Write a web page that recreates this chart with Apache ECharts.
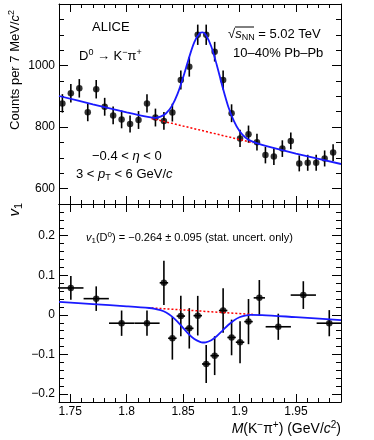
<!DOCTYPE html>
<html>
<head>
<meta charset="utf-8">
<title>D0 v1 vs invariant mass</title>
<script src="https://cdn.jsdelivr.net/npm/echarts@6.0.0/dist/echarts.min.js"></script>
<style>
  html, body { margin: 0; padding: 0; background: #fff; }
  #chart { width: 374px; height: 440px; }
</style>
</head>
<body>
<div id="chart"></div>
<script>
// top panel: counts per mass bin
const massBins = [1.743, 1.7505, 1.758, 1.7655, 1.773, 1.7805, 1.788, 1.7955, 1.803, 1.8105, 1.818,
  1.8255, 1.833, 1.8405, 1.848, 1.8555, 1.863, 1.8705, 1.878, 1.8855, 1.893, 1.9005, 1.908,
  1.9155, 1.923, 1.9305, 1.938, 1.9455, 1.953, 1.9605, 1.968, 1.9755, 1.983];
const counts = [877, 910, 926, 848, 923, 866, 838, 825, 810, 823, 877, 831, 820, 847, 953, 996,
  1100, 1100, 1045, 953, 845, 763, 777, 751, 709, 704, 730, 755, 682, 684, 684, 698, 717];
const countErrs = [30, 30, 30, 29, 30, 29, 29, 29, 28, 29, 30, 29, 29, 29, 31, 32,
  33, 33, 32, 31, 29, 28, 28, 27, 27, 27, 27, 27, 26, 26, 26, 26, 27];

// fit curves
const fitMass = [1.74, 1.77, 1.80, 1.82, 1.825, 1.83, 1.835, 1.84, 1.845, 1.85, 1.855, 1.86, 1.865,
  1.8675, 1.87, 1.875, 1.88, 1.885, 1.89, 1.895, 1.90, 1.905, 1.91, 1.92, 1.95, 1.99];
const fitCounts = [901, 874, 848, 832, 830, 834, 845, 868, 907, 961, 1022, 1076, 1106,
  1108, 1101, 1062, 1000, 930, 867, 820, 787, 767, 755, 742, 714, 680];
const fitV1 = [0.0326, 0.0271, 0.0216, 0.0174, 0.0153, 0.0119, 0.0060, -0.0037, -0.0168, -0.0326,
  -0.0485, -0.0610, -0.0682, -0.0697, -0.0693, -0.0640, -0.0534, -0.0395, -0.0255, -0.0140,
  -0.0061, -0.0019, -0.0002, -0.0005, -0.0058, -0.0131];
const bkgMass = [1.822, 1.912];
const bkgCounts = [828, 749];
const bkgV1 = [0.0176, 0.0011];

// bottom panel: v1 per mass bin
const v1Mass = [1.7505, 1.773, 1.7955, 1.818, 1.833, 1.8405, 1.848, 1.8555, 1.863, 1.8705,
  1.878, 1.8855, 1.893, 1.9005, 1.908, 1.9176, 1.9344, 1.9566, 1.9796];
const v1Values = [0.068, 0.041, -0.021, -0.021, 0.081, -0.059, -0.003, -0.034, -0.002, -0.124,
  -0.103, 0.011, -0.057, -0.069, -0.017, 0.043, -0.030, 0.050, -0.021];
const v1ErrY = [0.030, 0.031, 0.032, 0.032, 0.056, 0.054, 0.051, 0.051, 0.050, 0.048,
  0.049, 0.056, 0.045, 0.053, 0.057, 0.045, 0.033, 0.035, 0.033];
const v1ErrX = [0.0112, 0.0112, 0.0112, 0.0112, 0.00375, 0.00375, 0.00375, 0.00375, 0.00375, 0.00375,
  0.00375, 0.00375, 0.00375, 0.00375, 0.00375, 0.005, 0.0112, 0.0112, 0.0112];

// tick labels
const massTicks = [1.75, 1.8, 1.85, 1.9, 1.95];
const countTicks = [600, 800, 1000];
const v1Ticks = [-0.2, -0.1, 0, 0.1, 0.2];

const FONT = "'Liberation Sans', Arial, Helvetica, sans-serif";
const MASS_MIN = 1.74, MASS_MAX = 1.99;
const CNT_MIN = 550, CNT_MAX = 1200;
const V1_MIN = -0.22, V1_MAX = 0.28;

const chart = echarts.init(document.getElementById("chart"), null, { renderer: "canvas" });

function minorAxis(grid, position, min, max, interval, len) {
  return {
    type: "value", gridIndex: grid, position: position, min: min, max: max, interval: interval,
    axisLine: { show: true, onZero: false, lineStyle: { color: "#000", width: 1 } },
    axisTick: { show: true, inside: true, length: len, lineStyle: { color: "#000", width: 1 } },
    axisLabel: { show: false },
    splitLine: { show: false }
  };
}

function majorAxis(grid, position, min, max, ticks, len, labelMargin) {
  const axis = {
    type: "value", gridIndex: grid, position: position, min: min, max: max,
    axisLine: { show: false, onZero: false },
    axisTick: { show: true, inside: true, length: len, customValues: ticks,
      lineStyle: { color: "#000", width: 1 } },
    axisLabel: { show: false },
    splitLine: { show: false }
  };
  if (labelMargin != null) {
    axis.axisLabel = {
      show: true, customValues: ticks, margin: labelMargin,
      fontFamily: FONT, fontSize: 12, color: "#000",
      formatter: (v) => String(v).replace("-", "\u2212")
    };
  }
  return axis;
}

function errorSeries(axisIdx, data) {
  return {
    type: "custom", xAxisIndex: axisIdx, yAxisIndex: axisIdx, z: 2, silent: true,
    renderItem: (params, api) => {
      const x = api.value(0), y = api.value(1), ey = api.value(2), ex = api.value(3);
      const lo = api.coord([x, y - ey]);
      const hi = api.coord([x, y + ey]);
      const style = { stroke: "#000", lineWidth: 1.6 };
      const children = [{ type: "line", shape: { x1: lo[0], y1: lo[1], x2: hi[0], y2: hi[1] }, style: style }];
      if (ex > 0) {
        const l = api.coord([x - ex, y]);
        const r = api.coord([x + ex, y]);
        children.push({ type: "line", shape: { x1: l[0], y1: l[1], x2: r[0], y2: r[1] }, style: style });
      }
      return { type: "group", children: children };
    },
    data: data
  };
}

function richSet(size) {
  const small = Math.round(size * 0.7);
  return {
    m: { fontSize: size, fontFamily: FONT, fill: "#000", lineHeight: size + 3 },
    i: { fontSize: size, fontFamily: FONT, fontStyle: "italic", fill: "#000", lineHeight: size + 3 },
    sup: { fontSize: small, fontFamily: FONT, fill: "#000", verticalAlign: "top", lineHeight: small },
    sub: { fontSize: small, fontFamily: FONT, fill: "#000", verticalAlign: "bottom", lineHeight: small }
  };
}

function label(x, y, text, size, opts) {
  opts = opts || {};
  return {
    type: "text", x: x, y: y, silent: true, z: 10, rotation: opts.rotation || 0,
    style: { text: text, rich: richSet(size), align: opts.align || "left", verticalAlign: "middle" }
  };
}

const topPoints = massBins.map((m, i) => [m, counts[i], countErrs[i], 0]);
const v1Points = v1Mass.map((m, i) => [m, v1Values[i], v1ErrY[i], v1ErrX[i]]);

const gridTop = { left: 59, top: 4, width: 282, height: 200 };
const gridBot = { left: 59, top: 204, width: 282, height: 198 };

chart.setOption({
  animation: false,
  backgroundColor: "#fff",
  grid: [gridTop, gridTop, gridBot, gridBot],
  xAxis: [
    minorAxis(0, "bottom", MASS_MIN, MASS_MAX, 0.01, 4),
    minorAxis(0, "top", MASS_MIN, MASS_MAX, 0.01, 4),
    majorAxis(1, "bottom", MASS_MIN, MASS_MAX, massTicks, 8),
    majorAxis(1, "top", MASS_MIN, MASS_MAX, massTicks, 8),
    minorAxis(2, "bottom", MASS_MIN, MASS_MAX, 0.01, 4),
    minorAxis(2, "top", MASS_MIN, MASS_MAX, 0.01, 4),
    majorAxis(3, "bottom", MASS_MIN, MASS_MAX, massTicks, 8, 4),
    majorAxis(3, "top", MASS_MIN, MASS_MAX, massTicks, 8)
  ],
  yAxis: [
    minorAxis(0, "left", CNT_MIN, CNT_MAX, 50, 5),
    minorAxis(0, "right", CNT_MIN, CNT_MAX, 50, 5),
    majorAxis(1, "left", CNT_MIN, CNT_MAX, countTicks, 9, 4),
    majorAxis(1, "right", CNT_MIN, CNT_MAX, countTicks, 9),
    minorAxis(2, "left", V1_MIN, V1_MAX, 0.02, 5),
    minorAxis(2, "right", V1_MIN, V1_MAX, 0.02, 5),
    majorAxis(3, "left", V1_MIN, V1_MAX, v1Ticks, 9, 4),
    majorAxis(3, "right", V1_MIN, V1_MAX, v1Ticks, 9)
  ],
  series: [
    errorSeries(0, topPoints),
    {
      type: "scatter", xAxisIndex: 0, yAxisIndex: 0, z: 3, silent: true,
      symbol: "circle", symbolSize: 6.5, itemStyle: { color: "#000" },
      data: topPoints.map((p) => [p[0], p[1]])
    },
    {
      type: "line", xAxisIndex: 0, yAxisIndex: 0, z: 4, silent: true, showSymbol: false,
      lineStyle: { color: "#ff0000", width: 1.5, type: [2, 2] },
      data: bkgMass.map((m, i) => [m, bkgCounts[i]])
    },
    {
      type: "line", xAxisIndex: 0, yAxisIndex: 0, z: 5, silent: true, showSymbol: false, smooth: 0.3,
      lineStyle: { color: "#1a1aff", width: 1.8 },
      data: fitMass.map((m, i) => [m, fitCounts[i]])
    },
    errorSeries(4, v1Points),
    {
      type: "scatter", xAxisIndex: 4, yAxisIndex: 4, z: 3, silent: true,
      symbol: "circle", symbolSize: 6.5, itemStyle: { color: "#000" },
      data: v1Points.map((p) => [p[0], p[1]])
    },
    {
      type: "line", xAxisIndex: 4, yAxisIndex: 4, z: 4, silent: true, showSymbol: false,
      lineStyle: { color: "#ff0000", width: 1.5, type: [2, 2] },
      data: bkgMass.map((m, i) => [m, bkgV1[i]])
    },
    {
      type: "line", xAxisIndex: 4, yAxisIndex: 4, z: 5, silent: true, showSymbol: false, smooth: 0.3,
      lineStyle: { color: "#1a1aff", width: 1.8 },
      data: fitMass.map((m, i) => [m, fitV1[i]])
    }
  ],
  graphic: [
    label(92, 27, "{m|ALICE}", 13),
    label(79, 56, "{m|D}{sup|0}{m| \u2192 K}{sup|\u2212}{m|\u03c0}{sup|+}", 13),
    label(228, 34, "{m|\u221a}{i|s}{sub|NN}{m| = 5.02 TeV}", 13),
    { type: "line", silent: true, z: 10, shape: { x1: 235, y1: 27, x2: 254, y2: 27 },
      style: { stroke: "#000", lineWidth: 1 } },
    label(233, 53, "{m|10\u201340% Pb\u2013Pb}", 13),
    label(92, 156, "{m|\u22120.4 < }{i|\u03b7}{m| < 0}", 13),
    label(76, 174, "{m|3 < }{i|p}{sub|T}{m| < 6 GeV/}{i|c}", 13),
    label(86, 238, "{i|v}{sub|1}{m|(D}{sup|0}{m|) = \u22120.264 \u00b1 0.095 (stat. uncert. only)}", 11),
    label(341, 429, "{i|M}{m|(K}{sup|\u2212}{m|\u03c0}{sup|+}{m|) (GeV/}{i|c}{sup|2}{m|)}", 14, { align: "right" }),
    label(15, 10, "{m|Counts per 7 MeV/}{i|c}{sup|2}", 13, { align: "right", rotation: Math.PI / 2 }),
    label(15, 203, "{i|v}{sub|1}", 15, { align: "right", rotation: Math.PI / 2 })
  ]
});
</script>
</body>
</html>
